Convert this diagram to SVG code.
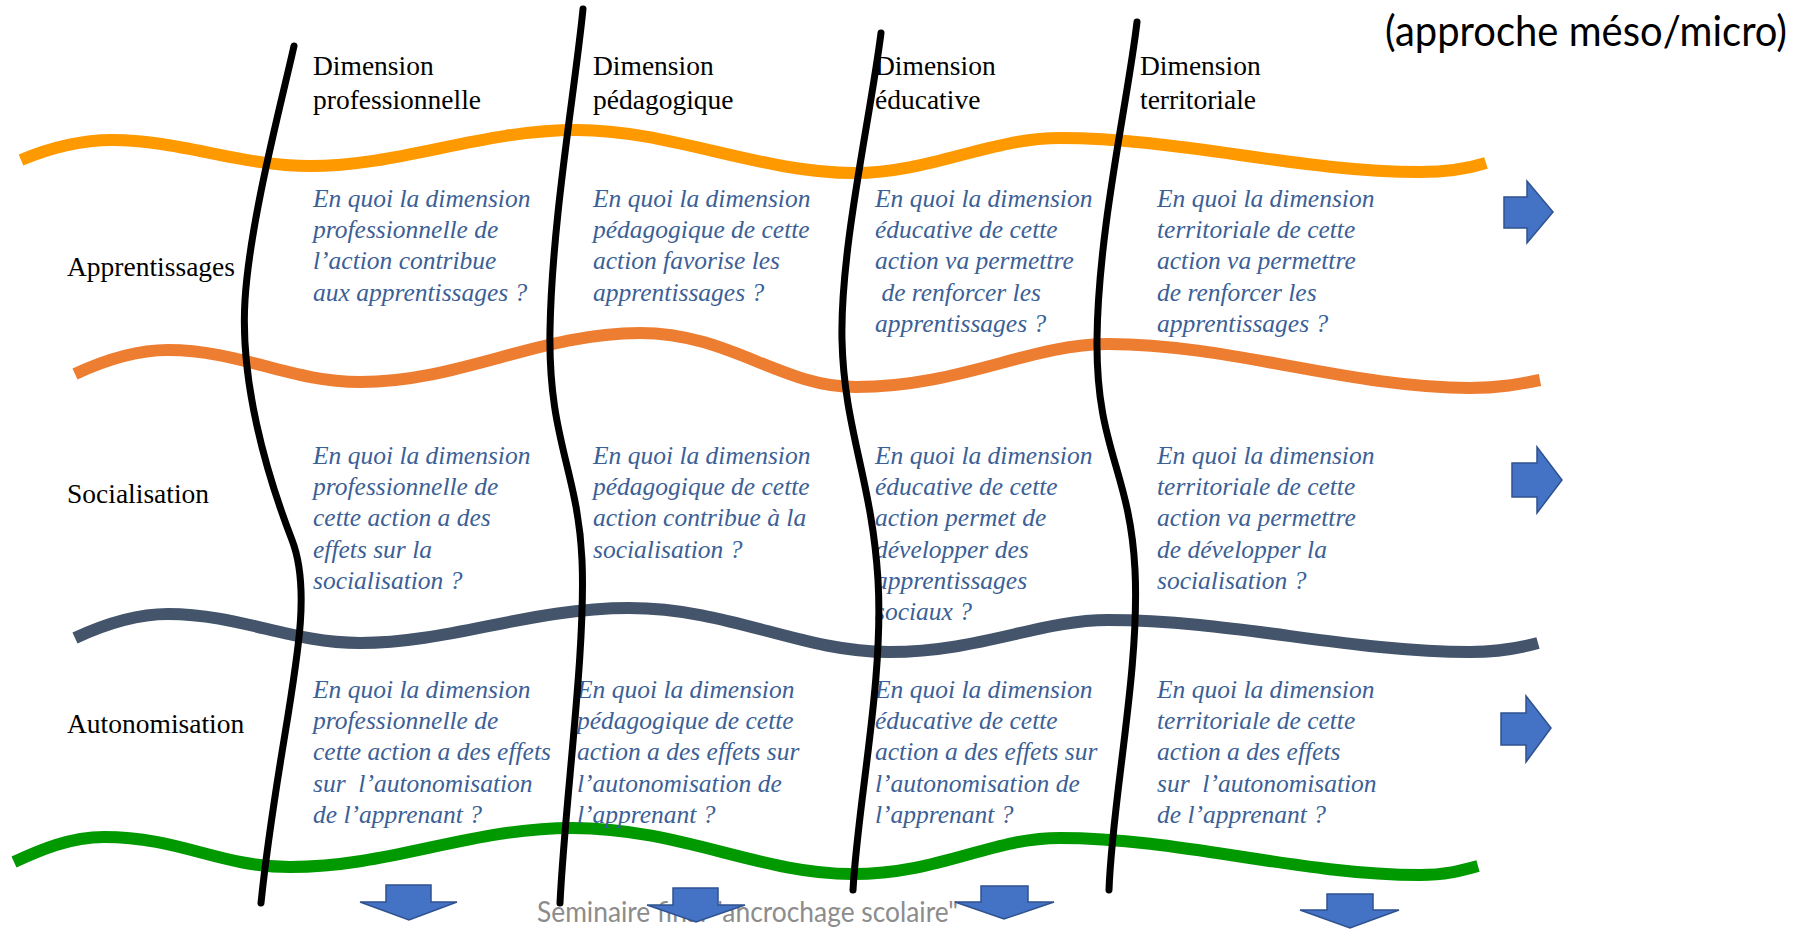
<svg xmlns="http://www.w3.org/2000/svg" width="1810" height="930" viewBox="0 0 1810 930">
<style>
.wave{fill:none;stroke-width:12;stroke-linecap:butt}
.vline{fill:none;stroke:#000;stroke-width:7;stroke-linecap:round}
.hdr{font-family:"Liberation Serif","Times New Roman",serif;font-size:27.5px;fill:#000}
.q{font-family:"Liberation Serif","Times New Roman",serif;font-size:25.5px;font-style:italic;fill:#3C5F96;white-space:pre}
.arr{fill:#4472C4;stroke:#2F528F;stroke-width:1.5}
.title{font-family:Lato,"Open Sans",sans-serif;font-size:42px;fill:#000}
.foot{font-family:Lato,"Open Sans",sans-serif;font-size:28px;fill:#8C8C8C}
</style>
<rect width="1810" height="930" fill="#fff"/>
<text id="title" class="title" x="1385" y="46" textLength="402" lengthAdjust="spacingAndGlyphs">(approche méso/micro)</text>
<text id="footer" class="foot" x="537" y="922" textLength="421" lengthAdjust="spacingAndGlyphs">Séminaire final "ancrochage scolaire"</text>

<g id="waves">
<path class="wave" stroke="#FF9900" d="M21,160 C45,150 75,140 112,140 C180,140 240,166 310,166 C400,166 480,130 577,130 C670,130 760,173 854,173 C930,173 990,138 1060,138 C1180,138 1300,172 1420,172 C1450,172 1470,168 1486,163"/>
<path class="wave" stroke="#ED7D31" d="M75,374 C105,360 135,350 168,350 C240,350 290,382 360,382 C460,382 540,333 640,333 C730,333 780,387 856,387 C960,387 1030,344 1108,344 C1230,344 1350,388 1470,388 C1500,388 1520,384 1540,380"/>
<path class="wave" stroke="#44546A" d="M75,638 C105,624 135,614 168,614 C240,614 290,643 360,643 C450,643 530,608 629,608 C730,608 800,652 889,652 C980,652 1040,620 1108,620 C1230,620 1350,652 1470,652 C1500,652 1520,648 1538,643"/>
<path class="wave" stroke="#009900" d="M14,862 C40,850 70,837 104,837 C180,837 220,867 290,867 C390,867 470,828 572,828 C680,828 760,874 852,874 C940,874 990,838 1060,838 C1180,838 1300,875 1420,875 C1445,875 1460,871 1478,866"/>
</g>

<g id="rowlabels">
<text id="row-apprentissages" class="hdr" x="67" y="276">Apprentissages</text>
<text id="row-socialisation" class="hdr" x="67" y="503">Socialisation</text>
<text id="row-autonomisation" class="hdr" x="67" y="733">Autonomisation</text>
</g>

<g id="headers">
<text id="hdr-pro" class="hdr"><tspan x="313" y="75">Dimension</tspan><tspan x="313" y="109">professionnelle</tspan></text>
<text id="hdr-peda" class="hdr"><tspan x="593" y="75">Dimension</tspan><tspan x="593" y="109">pédagogique</tspan></text>
<text id="hdr-edu" class="hdr"><tspan x="875" y="75">Dimension</tspan><tspan x="875" y="109">éducative</tspan></text>
<text id="hdr-terr" class="hdr"><tspan x="1140" y="75">Dimension</tspan><tspan x="1140" y="109">territoriale</tspan></text>
</g>

<g id="cells">
<text id="c11" class="q"><tspan x="313" y="207">En quoi la dimension</tspan><tspan x="313" y="238.2">professionnelle de</tspan><tspan x="313" y="269.4">l’action contribue</tspan><tspan x="313" y="300.6">aux apprentissages ?</tspan></text>
<text id="c12" class="q"><tspan x="593" y="207">En quoi la dimension</tspan><tspan x="593" y="238.2">pédagogique de cette</tspan><tspan x="593" y="269.4">action favorise les</tspan><tspan x="593" y="300.6">apprentissages ?</tspan></text>
<text id="c13" class="q"><tspan x="875" y="207">En quoi la dimension</tspan><tspan x="875" y="238.2">éducative de cette</tspan><tspan x="875" y="269.4">action va permettre</tspan><tspan x="875" y="300.6"> de renforcer les</tspan><tspan x="875" y="331.8">apprentissages ?</tspan></text>
<text id="c14" class="q"><tspan x="1157" y="207">En quoi la dimension</tspan><tspan x="1157" y="238.2">territoriale de cette</tspan><tspan x="1157" y="269.4">action va permettre</tspan><tspan x="1157" y="300.6">de renforcer les</tspan><tspan x="1157" y="331.8">apprentissages ?</tspan></text>

<text id="c21" class="q"><tspan x="313" y="464">En quoi la dimension</tspan><tspan x="313" y="495.2">professionnelle de</tspan><tspan x="313" y="526.4">cette action a des</tspan><tspan x="313" y="557.6">effets sur la</tspan><tspan x="313" y="588.8">socialisation ?</tspan></text>
<text id="c22" class="q"><tspan x="593" y="464">En quoi la dimension</tspan><tspan x="593" y="495.2">pédagogique de cette</tspan><tspan x="593" y="526.4">action contribue à la</tspan><tspan x="593" y="557.6">socialisation ?</tspan></text>
<text id="c23" class="q"><tspan x="875" y="464">En quoi la dimension</tspan><tspan x="875" y="495.2">éducative de cette</tspan><tspan x="875" y="526.4">action permet de</tspan><tspan x="875" y="557.6">développer des</tspan><tspan x="875" y="588.8">apprentissages</tspan><tspan x="875" y="620">sociaux ?</tspan></text>
<text id="c24" class="q"><tspan x="1157" y="464">En quoi la dimension</tspan><tspan x="1157" y="495.2">territoriale de cette</tspan><tspan x="1157" y="526.4">action va permettre</tspan><tspan x="1157" y="557.6">de développer la</tspan><tspan x="1157" y="588.8">socialisation ?</tspan></text>

<text id="c31" class="q"><tspan x="313" y="698">En quoi la dimension</tspan><tspan x="313" y="729.2">professionnelle de</tspan><tspan x="313" y="760.4">cette action a des effets</tspan><tspan x="313" y="791.6">sur  l’autonomisation</tspan><tspan x="313" y="822.8">de l’apprenant ?</tspan></text>
<text id="c32" class="q"><tspan x="577" y="698">En quoi la dimension</tspan><tspan x="577" y="729.2">pédagogique de cette</tspan><tspan x="577" y="760.4">action a des effets sur</tspan><tspan x="577" y="791.6">l’autonomisation de</tspan><tspan x="577" y="822.8">l’apprenant ?</tspan></text>
<text id="c33" class="q"><tspan x="875" y="698">En quoi la dimension</tspan><tspan x="875" y="729.2">éducative de cette</tspan><tspan x="875" y="760.4">action a des effets sur</tspan><tspan x="875" y="791.6">l’autonomisation de</tspan><tspan x="875" y="822.8">l’apprenant ?</tspan></text>
<text id="c34" class="q"><tspan x="1157" y="698">En quoi la dimension</tspan><tspan x="1157" y="729.2">territoriale de cette</tspan><tspan x="1157" y="760.4">action a des effets</tspan><tspan x="1157" y="791.6">sur  l’autonomisation</tspan><tspan x="1157" y="822.8">de l’apprenant ?</tspan></text>
</g>

<g id="vlines">
<path class="vline" d="M294,46 C282,100 250,220 245,300 S265,470 292,540 S280,720 261,903"/>
<path class="vline" d="M583,9 C575,90 552,220 550,330 S578,470 582,560 S565,800 560,903"/>
<path class="vline" d="M881,33 C870,120 840,250 842,340 S872,480 878,580 S858,800 853,890"/>
<path class="vline" d="M1137,22 C1128,100 1098,230 1097,340 S1130,470 1135,570 S1112,800 1109,890"/>
</g>

<g id="arrows">
<polygon id="arrow-r1" class="arr" points="1504,197 1527,197 1527,181 1553,212 1527,243 1527,228 1504,228"/>
<polygon id="arrow-r2" class="arr" points="1512,463 1537,463 1537,447 1562,480 1537,513 1537,497 1512,497"/>
<polygon id="arrow-r3" class="arr" points="1501,713 1526,713 1526,696 1551,728 1526,762 1526,745 1501,745"/>
<polygon id="arrow-d1" class="arr" points="386,885 431,885 431,902 457,902 409,920 360,902 386,902"/>
<polygon id="arrow-d2" class="arr" points="673,888 718,888 718,905 745,905 696,922 647,905 673,905"/>
<polygon id="arrow-d3" class="arr" points="981,886 1028,886 1028,902 1054,902 1004,919 955,902 981,902"/>
<polygon id="arrow-d4" class="arr" points="1327,894 1373,894 1373,910 1399,910 1350,928 1300,910 1327,910"/>
</g>
</svg>
